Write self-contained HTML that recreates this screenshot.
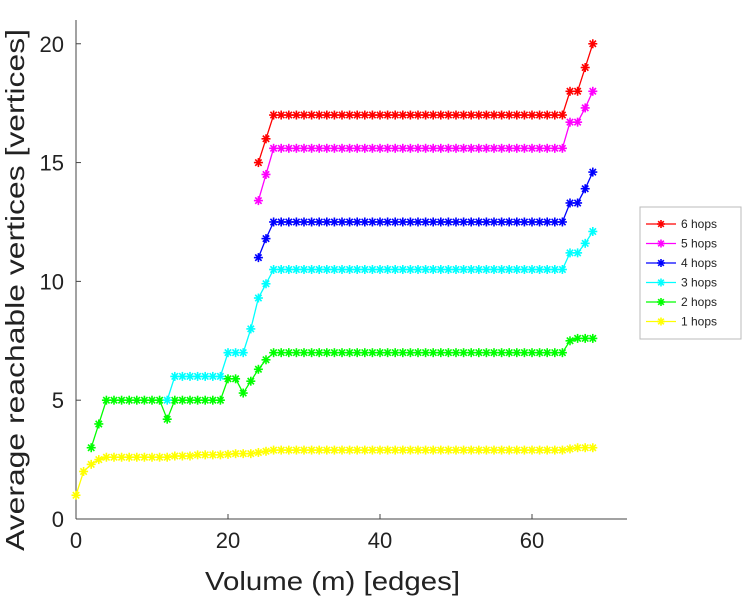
<!DOCTYPE html>
<html><head><meta charset="utf-8"><style>
body{margin:0;background:#fff;font-family:"Liberation Sans",sans-serif}
svg text{font-family:"Liberation Sans",sans-serif}
</style></head><body>
<svg id="c" width="755" height="600" xmlns="http://www.w3.org/2000/svg"></svg>
<script>
const xStart1=0, xStart2=2, xStart3=12, xStartHigh=24;
const hops1=[1,2,2.3,2.5,2.6,2.6,2.6,2.6,2.6,2.6,2.6,2.6,2.6,2.65,2.65,2.65,2.7,2.7,2.7,2.7,2.72,2.75,2.75,2.75,2.8,2.85,2.9,2.9,2.9,2.9,2.9,2.9,2.9,2.9,2.9,2.9,2.9,2.9,2.9,2.9,2.9,2.9,2.9,2.9,2.9,2.9,2.9,2.9,2.9,2.9,2.9,2.9,2.9,2.9,2.9,2.9,2.9,2.9,2.9,2.9,2.9,2.9,2.9,2.9,2.9,2.95,3,3,3];
const hops2=[3,4,5,5,5,5,5,5,5,5,4.2,5,5,5,5,5,5,5,5.9,5.9,5.3,5.8,6.3,6.7,7,7,7,7,7,7,7,7,7,7,7,7,7,7,7,7,7,7,7,7,7,7,7,7,7,7,7,7,7,7,7,7,7,7,7,7,7,7,7,7.5,7.6,7.6,7.6];
const hops3=[5,6,6,6,6,6,6,6,7,7,7,8,9.3,9.9,10.5,10.5,10.5,10.5,10.5,10.5,10.5,10.5,10.5,10.5,10.5,10.5,10.5,10.5,10.5,10.5,10.5,10.5,10.5,10.5,10.5,10.5,10.5,10.5,10.5,10.5,10.5,10.5,10.5,10.5,10.5,10.5,10.5,10.5,10.5,10.5,10.5,10.5,10.5,11.2,11.2,11.6,12.1];
const hops4=[11,11.8].concat(new Array(39).fill(12.5),[13.3,13.3,13.9,14.6]);
const hops5=[13.4,14.5].concat(new Array(39).fill(15.6),[16.7,16.7,17.3,18]);
const hops6=[15,16].concat(new Array(39).fill(17),[18,18,19,20]);
const xTicks=[0,20,40,60];
const yTicks=[0,5,10,15,20];
const seriesNames=["6 hops","5 hops","4 hops","3 hops","2 hops","1 hops"];
const seriesColors=["#ff0000","#ff00ff","#0000ff","#00ffff","#00ff00","#ffff00"];

const svg=document.getElementById('c');
const NS="http://www.w3.org/2000/svg";
const X0=76,X1=627,Y0=519,Y1=20,XMAX=72.5,YMAX=21;
const sx=v=>X0+v/XMAX*(X1-X0);
const sy=v=>Y0-v/YMAX*(Y0-Y1);
function mk(t,a,p){const e=document.createElementNS(NS,t);for(const k in a)e.setAttribute(k,a[k]);(p||svg).appendChild(e);return e;}

const axes=mk('g',{});


mk('line',{x1:X0,y1:Y1,x2:X0,y2:Y0,stroke:'#444','stroke-width':1},axes);
mk('line',{x1:X0,y1:Y0,x2:X1,y2:Y0,stroke:'#444','stroke-width':1},axes);
xTicks.forEach(v=>{
  mk('line',{x1:sx(v),y1:Y0,x2:sx(v),y2:Y0-5,stroke:'#444'},axes);
  const t=mk('text',{x:sx(v),y:Y0+29,'text-anchor':'middle','font-size':22,fill:'#222'},axes);t.textContent=v;
  
  
});
yTicks.forEach(v=>{
  mk('line',{x1:X0,y1:sy(v),x2:X0+5,y2:sy(v),stroke:'#444'},axes);
  const t=mk('text',{x:X0-12,y:sy(v)+8,'text-anchor':'end','font-size':22,fill:'#222'},axes);t.textContent=v;
  
  
});
const xt=mk('text',{x:205,y:590,'font-size':26,fill:'#222',textLength:255,lengthAdjust:'spacingAndGlyphs'});xt.textContent='Volume (m) [edges]';


const yt=mk('text',{x:0,y:0,'font-size':26,fill:'#222',textLength:522,lengthAdjust:'spacingAndGlyphs',transform:'translate(24,551) rotate(-90)'});yt.textContent='Average reachable vertices [vertices]';



function star(g,x,y,c,r){
  for(let a=0;a<4;a++){const an=a*Math.PI/4;mk('line',{x1:x-r*Math.cos(an),y1:y-r*Math.sin(an),x2:x+r*Math.cos(an),y2:y+r*Math.sin(an),stroke:c,'stroke-width':1.6},g);}
}
function series(vals,start,ci){
  const g=mk('g',{});
  
  
  const pts=vals.map((v,i)=>sx(start+i)+','+sy(v)).join(' ');
  mk('polyline',{points:pts,fill:'none',stroke:seriesColors[ci],'stroke-width':1.3},g);
  vals.forEach((v,i)=>star(g,sx(start+i),sy(v),seriesColors[ci],4.5));
}
series(hops1,xStart1,5);
series(hops2,xStart2,4);
series(hops3,xStart3,3);
series(hops4,xStartHigh,2);
series(hops5,xStartHigh,1);
series(hops6,xStartHigh,0);

const lg=mk('g',{});


mk('rect',{x:640,y:207,width:101,height:132,fill:'#fff',stroke:'#bbb'},lg);
seriesNames.forEach((n,i)=>{
  const y=224+i*19.5;
  const e=mk('g',{},lg);
  
  
  mk('line',{x1:646,y1:y,x2:676,y2:y,stroke:seriesColors[i],'stroke-width':1.3},e);
  star(e,661,y,seriesColors[i],4);
  const t=mk('text',{x:681,y:y+4,'font-size':12,fill:'#222'},e);t.textContent=n;
});
</script>
</body></html>
